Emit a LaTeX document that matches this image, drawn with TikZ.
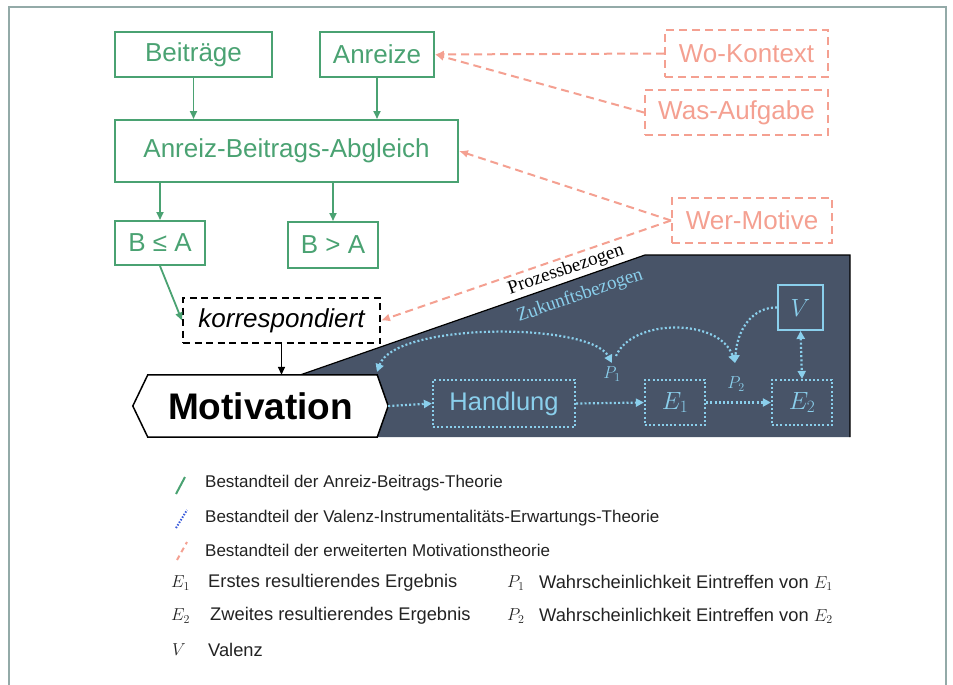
\documentclass[tikz,border=0pt]{standalone}
\usepackage{fontspec}
\setmainfont{Liberation Sans}
\newfontfamily\seriffont{Liberation Serif}
\usetikzlibrary{arrows.meta,backgrounds}
\definecolor{agreen}{HTML}{4AA272}
\definecolor{salmon}{HTML}{F4A091}
\definecolor{panel}{HTML}{485468}
\definecolor{lblue}{HTML}{8ACFEC}
\definecolor{frameline}{HTML}{93AAA8}
\definecolor{legblue}{HTML}{3B5BDB}
\definecolor{txt}{HTML}{222222}
\tikzset{
  big/.style={font=\fontsize{26}{29}\selectfont},
  gbox/.style={draw=agreen, line width=2pt, text=agreen, big, inner sep=0pt},
  sbox/.style={draw=salmon, line width=2pt, dash pattern=on 8pt off 5pt, text=salmon, big, inner sep=0pt},
  vbox/.style={draw=lblue, line width=2.2pt, dash pattern=on 2pt off 2.2pt, text=lblue, inner sep=0pt},
  garr/.style={draw=agreen, line width=1.8pt, -{Triangle[length=8pt,width=7pt]}},
  sarr/.style={draw=salmon, line width=2pt, dash pattern=on 8pt off 5pt, -{Latex[length=9pt,width=8pt]}},
  varr/.style={draw=lblue, line width=2.2pt, dash pattern=on 2pt off 2.2pt, -{Triangle[length=8pt,width=8pt]}},
  leg/.style={anchor=west, text=txt, font=\fontsize{17}{20}\selectfont, inner sep=0pt},
  legb/.style={anchor=west, text=txt, font=\fontsize{18.3}{21}\selectfont, inner sep=0pt},
  sym/.style={anchor=west, text=txt, font=\fontsize{17}{20}\selectfont, inner sep=0pt},
  slant/.style={rotate=19, inner sep=0pt, font=\seriffont\fontsize{19}{21}\selectfont},
}
\begin{document}
\begin{tikzpicture}[x=1pt,y=-1pt]
\useasboundingbox (0,0) rectangle (953,685);
% frame
\draw[frameline, line width=1.6pt] (9,685) -- (9,7) -- (946,7) -- (946,685);

% green part
\node[gbox, minimum width=157pt, minimum height=45pt] (beitr) at (193.5,54.5) {Beiträge};
\node[gbox, minimum width=114pt, minimum height=45pt] (anr) at (377,54.5) {Anreize};
\node[gbox, minimum width=343pt, minimum height=62pt] (abg) at (286.5,151) {Anreiz-Beitrags-Abgleich};
\node[gbox, minimum width=90pt, minimum height=44pt] (blea) at (160,243) {B ≤ A};
\node[gbox, minimum width=90pt, minimum height=46pt] (bgta) at (333,245) {B > A};

\draw[garr] (beitr.south) -- (beitr.south |- abg.north);
\draw[garr] (anr.south) -- (anr.south |- abg.north);
\draw[garr] (blea.north |- abg.south) -- (blea.north);
\draw[garr] (bgta.north |- abg.south) -- (bgta.north);

% salmon part
\node[sbox, minimum width=163pt, minimum height=47pt] (wok) at (746.5,53.5) {Wo-Kontext};
\node[sbox, minimum width=183pt, minimum height=45pt] (wasa) at (736.5,112.5) {Was-Aufgabe};
\node[sbox, minimum width=160pt, minimum height=45pt] (werm) at (752,220.5) {Wer-Motive};

% korrespondiert
\node[draw=black, line width=2pt, dash pattern=on 7pt off 4.5pt, inner sep=0pt,
      minimum width=197pt, minimum height=45pt, font=\fontsize{26}{29}\selectfont\itshape]
      (korr) at (281.5,320.5) {korrespondiert};

% Motivation
\node[inner sep=0pt, minimum width=255pt, minimum height=62pt,
      font=\fontsize{37}{40}\selectfont\bfseries] (mot) at (260.5,406) {Motivation};

% inner panel nodes
\node[vbox, minimum width=142pt, minimum height=47pt, font=\fontsize{25.5}{28}\selectfont] (hand) at (504,403.5) {Handlung};
\node[vbox, minimum width=60pt, minimum height=45pt, font=\fontsize{24}{28}\selectfont] (e1) at (675,402.5) {$E_{1}$};
\node[vbox, minimum width=60pt, minimum height=45pt, font=\fontsize{24}{28}\selectfont] (e2) at (802,402.5) {$E_{2}$};
\node[draw=lblue, line width=1.8pt, text=lblue, inner sep=0pt, minimum width=45pt, minimum height=45pt,
      font=\fontsize{24}{28}\selectfont] (v) at (800.5,307.5) {$V$};
\node[text=lblue, inner sep=0pt, font=\fontsize{17}{20}\selectfont] (p1) at (612,374) {$P_{1}$};
\node[text=lblue, inner sep=0pt, font=\fontsize{17}{20}\selectfont] (p2) at (736,384) {$P_{2}$};
\coordinate (p1t) at (612,363);
\coordinate (p1s) at (616,356);
\coordinate (p2t) at (735,363);
\coordinate (mtr) at (377,372);

\node[slant, text=black] (proz) at (566,270) {Prozessbezogen};
\node[slant, text=lblue] (zuk) at (580,296) {Zukunftsbezogen};

\begin{pgfonlayer}{background}
  \fill[panel] (300,375) -- (645,255) -- (850,255) -- (850,437) -- (300,437) -- cycle;
  \draw[black, line width=1.2pt] (300,375) -- (645,255) -- (850,255) -- (850,437);
  \draw[black, line width=1.5pt, fill=white] (mot.west) -- ([xshift=15pt]mot.north west) -- ([xshift=-11pt]mot.north east)
     -- (mot.east) -- ([xshift=-11pt]mot.south east) -- ([xshift=15pt]mot.south west) -- cycle;
\end{pgfonlayer}

% blue connectors
\draw[varr] (mot.east) -- (hand.west);
\draw[varr] (hand.east) -- (e1.west);
\draw[varr] (e1.east) -- (e2.west);
\draw[varr, {Triangle[length=8pt,width=8pt]}-{Triangle[length=8pt,width=8pt]}] (v.south) -- (e2.north);
\draw[varr, {Triangle[length=8pt,width=8pt]}-{Triangle[length=8pt,width=8pt]}] (mtr) .. controls (395,322) and (590,322) .. (p1t);
\draw[varr] (p1s) .. controls (632,318) and (720,318) .. (p2t);
\draw[varr] (v.west) .. controls (752,307) and (737,330) .. (p2t);

% salmon connectors
\draw[sarr] (wok.west) -- (anr.east);
\draw[sarr] (wasa.west) -- (anr.east);
\draw[sarr] (werm.west) -- (abg.east);
\draw[sarr] (werm.west) -- (korr.east);

% green/black to korr/mot
\draw[garr] (blea.south) -- (korr.west);
\draw[black, line width=1.6pt, -{Triangle[length=8pt,width=7pt]}] (korr.south) -- (korr.south |- mot.north);

% legend
\draw[agreen, line width=2pt] (176,494) -- (185,477);
\draw[legblue, line width=2pt, dash pattern=on 1.5pt off 1.5pt] (176,528) -- (187,510);
\draw[salmon, line width=2pt, dash pattern=on 5pt off 4pt] (177,560) -- (187,542);
\node[leg] (l1) at (205,483) {Bestandteil der Anreiz-Beitrags-Theorie};
\node[leg] (l2) at (205,518) {Bestandteil der Valenz-Instrumentalitäts-Erwartungs-Theorie};
\node[leg] (l3) at (205,550) {Bestandteil der erweiterten Motivationstheorie};
\node[sym] (s1) at (171,583) {$E_{1}$};
\node[legb] (t1) at (208,583) {Erstes resultierendes Ergebnis};
\node[sym] (s2) at (171,616) {$E_{2}$};
\node[legb] (t2) at (210,616) {Zweites resultierendes Ergebnis};
\node[sym] (s3) at (172,650) {$V$};
\node[legb] (t3) at (208,650) {Valenz};
\node[sym] (s4) at (507,583) {$P_{1}$};
\node[legb] (t4) at (539,583) {Wahrscheinlichkeit Eintreffen von $E_{1}$};
\node[sym] (s5) at (507,616) {$P_{2}$};
\node[legb] (t5) at (539,616) {Wahrscheinlichkeit Eintreffen von $E_{2}$};
\end{tikzpicture}
\end{document}
